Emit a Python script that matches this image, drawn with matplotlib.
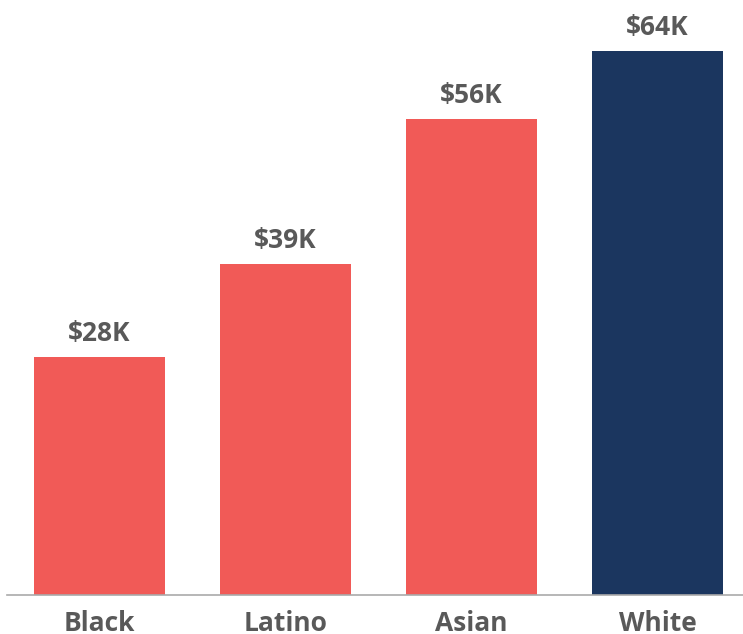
import matplotlib.pyplot as plt

groups = ['Black', 'Latino', 'Asian', 'White']
incomes = [28, 39, 56, 64]
labels = ['$28K', '$39K', '$56K', '$64K']
colors = ['#F15A57', '#F15A57', '#F15A57', '#1B365F']

plt.rcParams['font.family'] = ['Open Sans', 'DejaVu Sans']

fig = plt.figure(figsize=(7.43, 6.34), dpi=100)
ax = fig.add_axes([0.0, 39 / 634, 1.0, 595 / 634])

x = range(len(groups))
bars = ax.bar(x, incomes, width=0.705, color=colors)

for b, lab in zip(bars, labels):
    ax.annotate(lab, (b.get_x() + b.get_width() / 2, b.get_height()),
                xytext=(0, 7), textcoords='offset points', ha='center', va='bottom',
                fontsize=19, fontweight='bold', color='#595959')

ax.set_xlim(-0.535, 3.46)
ax.set_ylim(0, 70)
ax.set_xticks(list(x))
ax.set_xticklabels(groups, fontsize=19, fontweight='bold', color='#595959')
ax.tick_params(axis='x', length=0, pad=11)
ax.set_yticks([])
for side in ['top', 'right', 'left']:
    ax.spines[side].set_visible(False)
ax.spines['bottom'].set_color('#AAAAAA')
ax.spines['bottom'].set_linewidth(1.2)
ax.spines['bottom'].set_bounds(-0.5, 3.46)

fig.savefig('out.png', dpi=100)
